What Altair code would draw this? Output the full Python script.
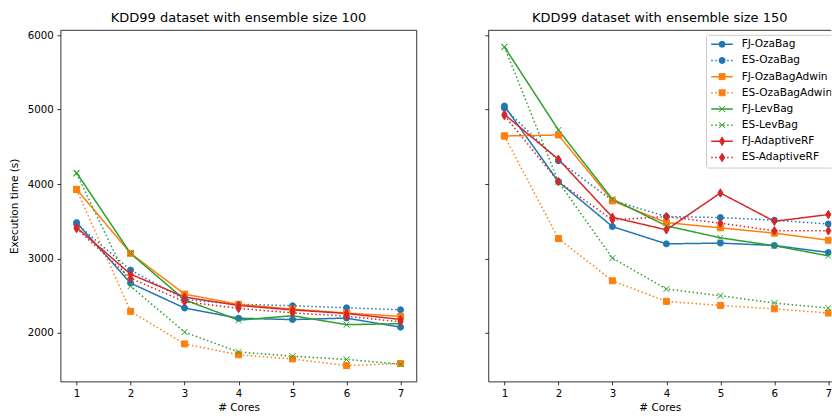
import altair as alt
import pandas as pd

cores = [1, 2, 3, 4, 5, 6, 7]
series_names = ["FJ-OzaBag", "ES-OzaBag", "FJ-OzaBagAdwin", "ES-OzaBagAdwin",
                "FJ-LevBag", "ES-LevBag", "FJ-AdaptiveRF", "ES-AdaptiveRF"]
series_colors = ["#1f77b4", "#1f77b4", "#ff7f0e", "#ff7f0e",
                 "#2ca02c", "#2ca02c", "#d62728", "#d62728"]
y_ticks = [2000, 3000, 4000, 5000, 6000]
x_ticks = [1, 2, 3, 4, 5, 6, 7]

# ensemble size 100
fj_ozabag_100 = [3483, 2670, 2335, 2198, 2180, 2200, 2078]
es_ozabag_100 = [3465, 2845, 2450, 2385, 2366, 2338, 2312]
fj_ozabagadwin_100 = [3930, 3070, 2522, 2385, 2320, 2268, 2223]
es_ozabagadwin_100 = [3925, 2290, 1853, 1707, 1651, 1562, 1590]
fj_levbag_100 = [4152, 3068, 2446, 2172, 2232, 2112, 2125]
es_levbag_100 = [4140, 2628, 2012, 1745, 1688, 1645, 1580]
fj_adaptiverf_100 = [3418, 2790, 2482, 2370, 2310, 2262, 2182]
es_adaptiverf_100 = [3402, 2735, 2420, 2330, 2270, 2225, 2150]

# ensemble size 150
fj_ozabag_150 = [5048, 4033, 3429, 3197, 3207, 3175, 3081]
es_ozabag_150 = [5020, 4314, 3780, 3563, 3550, 3515, 3464]
fj_ozabagadwin_150 = [4646, 4659, 3774, 3483, 3412, 3341, 3246]
es_ozabagadwin_150 = [4646, 3268, 2701, 2424, 2370, 2324, 2268]
fj_levbag_150 = [5843, 4726, 3798, 3439, 3278, 3172, 3036]
es_levbag_150 = [5843, 4030, 3006, 2590, 2500, 2402, 2335]
fj_adaptiverf_150 = [4936, 4333, 3555, 3385, 3880, 3500, 3590]
es_adaptiverf_150 = [4920, 4033, 3519, 3563, 3475, 3372, 3372]

vals_100 = [fj_ozabag_100, es_ozabag_100, fj_ozabagadwin_100, es_ozabagadwin_100,
            fj_levbag_100, es_levbag_100, fj_adaptiverf_100, es_adaptiverf_100]
vals_150 = [fj_ozabag_150, es_ozabag_150, fj_ozabagadwin_150, es_ozabagadwin_150,
            fj_levbag_150, es_levbag_150, fj_adaptiverf_150, es_adaptiverf_150]


def long_df(vals):
    rows = []
    for name, v in zip(series_names, vals):
        for c, t in zip(cores, v):
            rows.append({"series": name, "cores": c, "time": t})
    return pd.DataFrame(rows)


df100 = long_df(vals_100)
df150 = long_df(vals_150)
legend_df = pd.DataFrame({"series": series_names, "row": list(range(len(series_names)))})
one = pd.DataFrame({"a": [0]})

FONT = "DejaVu Sans"
W_L = 357
W_R = 343.7
H = 351.7
Y_DOM = [1350, 6065]
X_DOM_L = [0.7, 7.3]
X_DOM_R = [0.7, 0.7 + 6.6 * W_R / W_L]

x_path = "M-1,-1L1,1M-1,1L1,-1"
thin_diamond = "M0,-1.414L0.85,0L0,1.414L-0.85,0Z"
shapes = ["circle", "circle", "square", "square", x_path, x_path, thin_diamond, thin_diamond]
dashes = [[1, 0], [1.5, 2.5]] * 4

color_scale = alt.Scale(domain=series_names, range=series_colors)
shape_scale = alt.Scale(domain=series_names, range=shapes)
dash_scale = alt.Scale(domain=series_names, range=dashes)

axis_style = dict(grid=False, labelFont=FONT, labelFontSize=10.3, labelColor="black",
                  titleFont=FONT, titleFontSize=10.5, titleFontWeight="normal", titleColor="black",
                  tickColor="black", tickWidth=0.8, tickSize=3.5, labelPadding=3.5,
                  domainColor="black", domainWidth=0.8)


def panel(df, title, xdom, width, show_labels, clip):
    x = alt.X("cores:Q", scale=alt.Scale(domain=xdom, nice=False, zero=False),
              axis=alt.Axis(values=x_ticks, format="d", title="# Cores", titlePadding=4,
                            labelFlush=False, **axis_style))
    if show_labels:
        yaxis = alt.Axis(values=y_ticks, format="d", title="Execution time (s)", titlePadding=8,
                         **axis_style)
    else:
        yaxis = alt.Axis(values=y_ticks, labels=False, title=None, **axis_style)
    y = alt.Y("time:Q", scale=alt.Scale(domain=Y_DOM, nice=False, zero=False), axis=yaxis)
    base = alt.Chart(df)
    lines = base.mark_line(strokeWidth=1.5, strokeJoin="round", clip=clip).encode(
        x=x, y=y,
        color=alt.Color("series:N", scale=color_scale, legend=None),
        strokeDash=alt.StrokeDash("series:N", scale=dash_scale, legend=None),
        detail="series:N",
    )
    pts = base.mark_point(filled=True, opacity=1, size=36, strokeWidth=1, clip=clip).encode(
        x=x, y=y,
        fill=alt.Fill("series:N", scale=color_scale, legend=None),
        stroke=alt.Stroke("series:N", scale=color_scale, legend=None),
        shape=alt.Shape("series:N", scale=shape_scale, legend=None),
    )
    top = alt.Chart(one).mark_rule(color="black", strokeWidth=0.8).encode(
        x=alt.value(0), x2=alt.value(width), y=alt.value(0))
    layers = [lines, pts, top]
    if show_labels:
        right = alt.Chart(one).mark_rule(color="black", strokeWidth=0.8).encode(
            x=alt.value(width), y=alt.value(0), y2=alt.value(H))
        layers.append(right)
    return alt.layer(*layers).properties(
        width=width, height=H,
        title=alt.TitleParams(title, fontSize=13, font=FONT, fontWeight="normal",
                              color="black", offset=5, anchor="middle"))


left = panel(df100, "KDD99 dataset with ensemble size 100", X_DOM_L, W_L, True, False)
right_data = panel(df150, "KDD99 dataset with ensemble size 150", X_DOM_R, W_R, False, True)

ly = alt.Y("row:Q", scale=alt.Scale(domain=[0, 7], range=[14, 127.4]), axis=None)
box = alt.Chart(one).mark_rect(fill="white", fillOpacity=0.8, stroke="#cccccc", strokeWidth=1,
                               cornerRadius=2, clip=True).encode(
    x=alt.value(218.7), x2=alt.value(420), y=alt.value(5), y2=alt.value(138))
leg_base = alt.Chart(legend_df)
leg_lines = leg_base.mark_rule(strokeWidth=1.5).encode(
    x=alt.value(223.4), x2=alt.value(245), y=ly,
    color=alt.Color("series:N", scale=color_scale, legend=None),
    strokeDash=alt.StrokeDash("series:N", scale=dash_scale, legend=None))
leg_pts = leg_base.mark_point(filled=True, opacity=1, size=36, strokeWidth=1).encode(
    x=alt.value(234.3), y=ly,
    fill=alt.Fill("series:N", scale=color_scale, legend=None),
    stroke=alt.Stroke("series:N", scale=color_scale, legend=None),
    shape=alt.Shape("series:N", scale=shape_scale, legend=None))
leg_text = leg_base.mark_text(align="left", baseline="middle", fontSize=10.6, font=FONT,
                              color="black", clip=True).encode(
    x=alt.value(254), y=ly, text="series:N")
legend = alt.layer(box, leg_lines, leg_pts, leg_text)

right = alt.layer(right_data, legend).resolve_scale(y="independent").properties(
    width=W_R, height=H)

chart = alt.hconcat(left, right, spacing=71.6, bounds="flush").properties(
    padding={"left": 8.5, "top": 11, "right": 0, "bottom": 1},
    background="white",
).configure(
    font=FONT,
    view=alt.ViewConfig(stroke=None),
    axis=alt.AxisConfig(**axis_style),
)

chart.save("out.html", embed_options={"renderer": "svg", "actions": False})
